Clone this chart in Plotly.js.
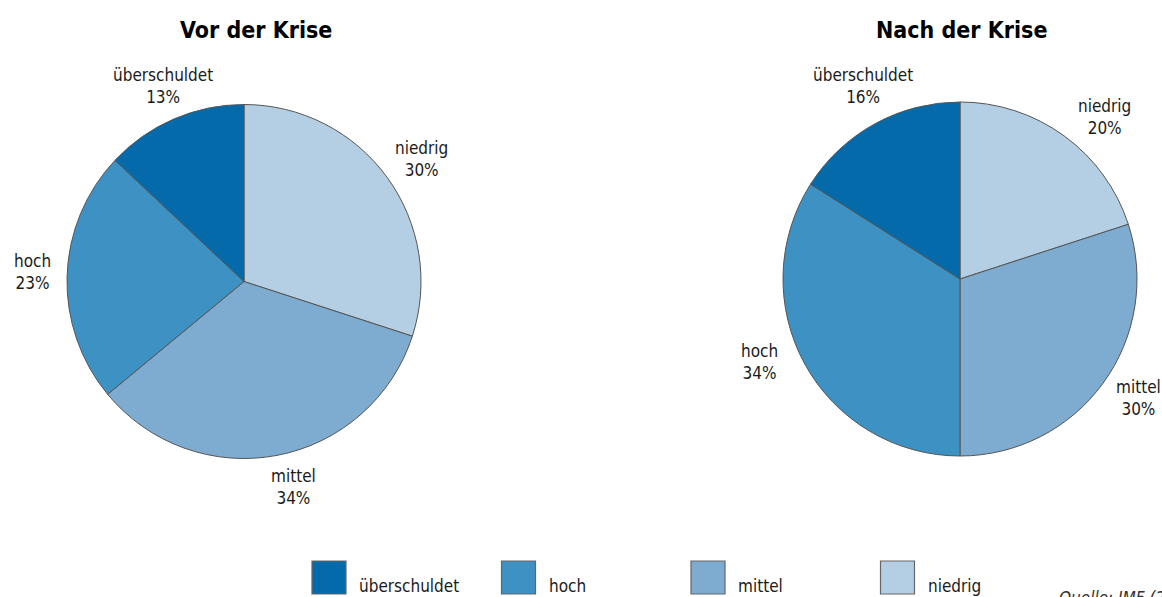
<!DOCTYPE html>
<html>
<head>
<meta charset="utf-8">
<script src="https://cdn.plot.ly/plotly-3.0.1.min.js"></script>
<style>html,body{margin:0;padding:0;background:#fff;}#chart{width:1162px;height:597px;}</style>
</head>
<body>
<div id="chart"></div>
<script>
// ---- data ----
const categories = ["niedrig", "mittel", "hoch", "überschuldet"];
const valuesBefore = [30, 34, 23, 13];
const valuesAfter = [20, 30, 34, 16];
const chartTitles = ["Vor der Krise", "Nach der Krise"];
const legendOrder = ["überschuldet", "hoch", "mittel", "niedrig"];
const sourceText = "Quelle: IMF (2013)";

// ---- styles ----
const W = 1162, H = 597;
const colorMap = {"überschuldet": "#056aa9", "hoch": "#3d91c3", "mittel": "#7dacd0", "niedrig": "#b4cfe3"};
const labelFont = {family: "DejaVu Sans Condensed, Liberation Sans Narrow, sans-serif", size: 17, color: "#1a1a1a"};
const titleFont = {family: "DejaVu Sans Condensed, sans-serif", size: 23, color: "#000", weight: 700};

// label placement tweaks (px) to follow the reference's label layout
const nudgeBefore = {"niedrig": [6, 2], "mittel": [10, -3], "hoch": [0, -3], "überschuldet": [3, -1]};
const nudgeAfter = {"niedrig": [20, 10], "mittel": [7, -6], "hoch": [-15, -19], "überschuldet": [5, -7]};

const pies = [
  {vals: valuesBefore, cx: 244, cy: 281.5, r: 177, title: chartTitles[0], tx: 256, nudge: nudgeBefore},
  {vals: valuesAfter, cx: 960, cy: 279, r: 177, title: chartTitles[1], tx: 961, nudge: nudgeAfter}
];

const px = x => x / W;
const py = y => 1 - y / H;

const traces = pies.map(p => ({
  type: "pie",
  labels: categories,
  values: p.vals,
  sort: false,
  direction: "clockwise",
  rotation: 0,
  textinfo: "none",
  hoverinfo: "label+percent",
  showlegend: false,
  marker: {colors: categories.map(c => colorMap[c]), line: {color: "#555555", width: 1}},
  domain: {x: [px(p.cx - p.r), px(p.cx + p.r)], y: [py(p.cy + p.r), py(p.cy - p.r)]}
}));

const annotations = [];
const shapes = [];
pies.forEach(p => {
  annotations.push({xref: "paper", yref: "paper", x: px(p.tx), y: py(30), xanchor: "center", yanchor: "middle",
    text: "<b>" + p.title + "</b>", showarrow: false, font: titleFont});
  const total = p.vals.reduce((a, b) => a + b, 0);
  let cum = 0;
  const R = p.r + 35;
  p.vals.forEach((v, i) => {
    const mid = (cum + v / 2) / total;
    cum += v;
    const th = 2 * Math.PI * mid;
    const n = p.nudge[categories[i]] || [0, 0];
    const x = p.cx + R * Math.sin(th) + n[0];
    const y = p.cy - R * Math.cos(th) + n[1];
    annotations.push({xref: "paper", yref: "paper", x: px(x), y: py(y), xanchor: "center", yanchor: "middle",
      text: categories[i] + "<br>" + Math.round(v / total * 100) + "%", showarrow: false, font: labelFont, align: "center"});
  });
});

// custom legend
const legX0 = 312, legStep = 189.5, sw = 34;
legendOrder.forEach((c, i) => {
  const x0 = legX0 + i * legStep;
  shapes.push({type: "rect", xref: "paper", yref: "paper", x0: px(x0), x1: px(x0 + sw), y0: py(594), y1: py(561),
    fillcolor: colorMap[c], line: {color: "#666666", width: 1.2}});
  annotations.push({xref: "paper", yref: "paper", x: px(x0 + 46), y: py(585.5), xanchor: "left", yanchor: "middle",
    text: c, showarrow: false, font: labelFont, borderpad: 0});
});

annotations.push({xref: "paper", yref: "paper", x: px(1057), y: py(586), xanchor: "left", yanchor: "top",
  text: "<i>" + sourceText + "</i>", showarrow: false, font: {family: labelFont.family, size: 17, color: "#333"}});

const layout = {
  width: W, height: H,
  margin: {l: 0, r: 0, t: 0, b: 0},
  paper_bgcolor: "#ffffff",
  plot_bgcolor: "#ffffff",
  showlegend: false,
  annotations: annotations,
  shapes: shapes
};

Plotly.newPlot("chart", traces, layout, {displayModeBar: false, responsive: false});
</script>
</body>
</html>
